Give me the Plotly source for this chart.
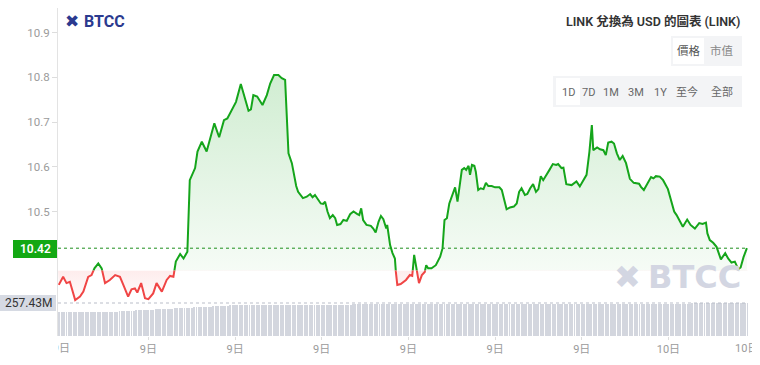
import plotly.graph_objects as go

# ---------------- data ----------------
minutes = [
    -6, 3, 10, 17, 28, 38, 45, 55, 62, 68,
    76, 83, 90, 100, 111, 121, 128, 138, 145, 152,
    157, 165, 173, 180, 190, 197, 208, 218, 225, 232,
    237, 246, 253, 261, 266, 272, 277, 282, 291, 301,
    308, 317, 327, 337, 344, 353, 362, 372, 381, 388,
    393, 398, 406, 417, 426, 433, 441, 450, 457, 464,
    471, 478, 487, 491, 501, 509, 516, 521, 526, 533,
    538, 543, 547, 552, 557, 563, 568, 572, 579, 585,
    592, 599, 606, 614, 618, 622, 626, 633, 642, 647,
    652, 658, 663, 668, 674, 676, 682, 687, 692, 694,
    697, 704, 715, 723, 728, 732, 737, 742, 748, 754,
    757, 761, 768, 777, 786, 791, 795, 800, 805, 812,
    817, 822, 826, 831, 836, 840, 845, 848, 852, 857,
    860, 865, 870, 876, 881, 886, 893, 900, 909, 914,
    919, 924, 931, 939, 945, 950, 955, 962, 967, 973,
    979, 985, 990, 995, 1000, 1006, 1013, 1020, 1027, 1031,
    1038, 1042, 1048, 1059, 1069, 1076, 1083, 1090, 1096, 1101,
    1104, 1112, 1118, 1125, 1130, 1135, 1142, 1147, 1153, 1159,
    1165, 1172, 1180, 1188, 1199, 1203, 1209, 1217, 1224, 1229,
    1234, 1242, 1249, 1259, 1267, 1272, 1277, 1282, 1290, 1299,
    1306, 1315, 1324, 1331, 1338, 1341, 1346, 1353, 1360, 1369,
    1378, 1384, 1391, 1398, 1405, 1410, 1416, 1423,
]
price = [
    10.336, 10.354, 10.340, 10.343, 10.302, 10.310, 10.321, 10.354, 10.358, 10.373,
    10.384, 10.373, 10.340, 10.347, 10.358, 10.354, 10.336, 10.310, 10.326, 10.328,
    10.319, 10.340, 10.306, 10.304, 10.317, 10.340, 10.321, 10.347, 10.356, 10.354,
    10.388, 10.405, 10.395, 10.410, 10.570, 10.585, 10.597, 10.634, 10.656, 10.634,
    10.664, 10.697, 10.666, 10.704, 10.708, 10.727, 10.745, 10.785, 10.749, 10.725,
    10.728, 10.760, 10.757, 10.738, 10.760, 10.786, 10.805, 10.805, 10.798, 10.794,
    10.630, 10.608, 10.557, 10.544, 10.530, 10.533, 10.539, 10.532, 10.537, 10.526,
    10.518, 10.517, 10.522, 10.500, 10.485, 10.492, 10.485, 10.470, 10.472, 10.481,
    10.479, 10.494, 10.500, 10.494, 10.492, 10.507, 10.481, 10.470, 10.468, 10.462,
    10.453, 10.477, 10.490, 10.483, 10.462, 10.470, 10.425, 10.407, 10.395, 10.365,
    10.336, 10.338, 10.347, 10.358, 10.356, 10.403, 10.373, 10.340, 10.358, 10.365,
    10.380, 10.373, 10.373, 10.380, 10.399, 10.418, 10.481, 10.485, 10.518, 10.537,
    10.554, 10.522, 10.559, 10.593, 10.597, 10.593, 10.602, 10.582, 10.604, 10.602,
    10.589, 10.548, 10.552, 10.550, 10.564, 10.557, 10.557, 10.554, 10.554, 10.548,
    10.526, 10.505, 10.509, 10.511, 10.518, 10.544, 10.552, 10.537, 10.539, 10.552,
    10.561, 10.544, 10.550, 10.579, 10.570, 10.582, 10.593, 10.606, 10.604, 10.606,
    10.597, 10.598, 10.561, 10.559, 10.567, 10.556, 10.569, 10.582, 10.634, 10.693,
    10.637, 10.643, 10.639, 10.637, 10.626, 10.654, 10.656, 10.652, 10.630, 10.615,
    10.624, 10.608, 10.573, 10.564, 10.562, 10.555, 10.548, 10.562, 10.577, 10.574,
    10.579, 10.578, 10.570, 10.550, 10.518, 10.500, 10.492, 10.483, 10.466, 10.482,
    10.470, 10.462, 10.474, 10.472, 10.475, 10.451, 10.436, 10.430, 10.421, 10.393,
    10.407, 10.395, 10.386, 10.388, 10.371, 10.375, 10.398, 10.418,
]
# volume (millions), one bar per 5 minutes starting at minute -5
volume_m = [
    188, 187, 188, 186, 187, 188, 187, 186, 188, 187, 188, 187,
    186, 187, 188, 187, 188, 189, 188, 187, 188, 189, 190, 189,
    191, 192, 193, 194, 195, 196, 197, 198, 199, 200, 201, 202,
    203, 204, 205, 206, 207, 208, 209, 210, 211, 212, 213, 214,
    215, 216, 217, 218, 219, 220, 221, 222, 223, 224, 225, 226,
    227, 228, 229, 230, 231, 232, 233, 234, 235, 236, 237, 238,
    238, 239, 239, 240, 240, 240, 241, 241, 241, 242, 242, 242,
    242, 243, 243, 243, 243, 243, 244, 244, 244, 244, 244, 244,
    244, 245, 245, 245, 245, 245, 245, 245, 245, 245, 245, 245,
    245, 245, 245, 245, 245, 245, 245, 245, 245, 245, 245, 245,
    245, 245, 246, 246, 246, 246, 246, 246, 246, 246, 246, 246,
    246, 246, 246, 246, 246, 246, 246, 246, 246, 246, 246, 246,
    246, 246, 246, 246, 246, 246, 246, 246, 246, 246, 246, 246,
    247, 247, 247, 247, 247, 247, 247, 247, 247, 247, 247, 247,
    247, 247, 247, 247, 247, 247, 247, 247, 247, 247, 247, 247,
    248, 248, 248, 248, 248, 248, 248, 248, 248, 248, 248, 248,
    248, 248, 248, 248, 248, 248, 248, 248, 248, 248, 248, 248,
    249, 249, 249, 249, 249, 249, 249, 249, 249, 249, 249, 249,
    249, 249, 249, 249, 249, 249, 249, 249, 249, 249, 249, 249,
    250, 250, 250, 250, 250, 250, 250, 250, 250, 250, 250, 250,
    251, 251, 251, 251, 251, 251, 251, 251, 251, 251, 251, 251,
    252, 252, 252, 252, 252, 253, 253, 253, 253, 253, 253, 254,
    254, 254, 254, 255, 255, 255, 255, 256, 256, 256, 256, 257,
    257, 257, 257, 257, 257, 257, 257, 257, 257, 257, 257.43,
]
vol_minutes = [-5 + 5 * i for i in range(len(volume_m))]

x_tick_minutes = [0, 180, 360, 540, 720, 900, 1080, 1260, 1440]
x_tick_labels = ["9日", "9日", "9日", "9日", "9日", "9日", "9日", "10日", "10日"]
y_tick_values = [10.5, 10.6, 10.7, 10.8, 10.9]
baseline_price = 10.368
title_text = "LINK 兌換為 USD 的圖表 (LINK)"
metric_buttons = ["價格", "市值"]
range_buttons = ["1D", "7D", "1M", "3M", "1Y", "至今", "全部"]

# ---------------- layout geometry (pixels) ----------------
W, H = 760, 365
L, R, T, B = 58, 748, 8, 336
PX_PER_MIN = 1 / 2.0768
X0 = -7.68
X1 = X0 + (R - L) / PX_PER_MIN
PX_PER_UNIT = 447.5
P_AT_211 = 10.5
PMIN = P_AT_211 - (B - 211.5) / PX_PER_UNIT
PMAX = P_AT_211 + (211.5 - T) / PX_PER_UNIT
VOL_TOP_PX = 303
VMAX = volume_m[-1] * (B - T) / (B - VOL_TOP_PX)
d_base = (baseline_price - PMIN) / (PMAX - PMIN)


def xp(px):
    return (px - L) / (R - L)


def yp(py):
    return (B - py) / (B - T)


FONT = "Roboto, 'Noto Sans CJK TC', sans-serif"
GREEN = "#15a51b"
RED = "#f04545"

fig = go.Figure()

# volume
fig.add_trace(go.Bar(
    x=vol_minutes, y=volume_m, xaxis="x", yaxis="y2",
    width=2.0, marker=dict(color="#d3d6de", line=dict(width=0)),
    hoverinfo="skip", showlegend=False,
))

# last price dashed line (on main axis)
fig.add_trace(go.Scatter(
    x=[X0, X1], y=[price[-1], price[-1]], xaxis="x", yaxis="y",
    mode="lines", line=dict(color="#1d8f1d", width=1, dash="3px,3px"),
    hoverinfo="skip", showlegend=False,
))

# green part (above baseline)
fig.add_trace(go.Scatter(
    x=minutes, y=price, xaxis="x", yaxis="y3",
    mode="lines", line=dict(color=GREEN, width=2),
    fill="tozeroy",
    fillgradient=dict(type="vertical", start=baseline_price, stop=max(price),
                      colorscale=[[0, "rgba(23,165,29,0.04)"], [1, "rgba(23,165,29,0.20)"]]),
    hoverinfo="skip", showlegend=False,
))

# red part (below baseline)
fig.add_trace(go.Scatter(
    x=[X0, X1], y=[baseline_price, baseline_price], xaxis="x", yaxis="y4",
    mode="lines", line=dict(width=0, color="rgba(0,0,0,0)"),
    hoverinfo="skip", showlegend=False,
))
fig.add_trace(go.Scatter(
    x=minutes, y=price, xaxis="x", yaxis="y4",
    mode="lines", line=dict(color=RED, width=2),
    fill="tonexty",
    fillgradient=dict(type="vertical", start=min(price), stop=baseline_price,
                      colorscale=[[0, "rgba(240,69,69,0.02)"], [1, "rgba(240,69,69,0.10)"]]),
    hoverinfo="skip", showlegend=False,
))

shapes = []
annotations = []


def note(px, py, text, size, color, family=FONT, xanchor="center", **kw):
    annotations.append(dict(xref="paper", yref="paper", x=xp(px), y=yp(py),
                            xanchor=xanchor, yanchor="middle", text=text,
                            showarrow=False,
                            font=dict(family=family, size=size, color=color, **kw.pop("fkw", {})),
                            **kw))


# last price label
shapes.append(dict(type="rect", xref="paper", yref="paper",
                   x0=xp(13), x1=xp(57), y0=yp(258), y1=yp(240),
                   fillcolor="#13a813", line=dict(width=0), layer="above"))
note(35, 249, f"{price[-1]:.2f}", 12, "white", fkw=dict(weight=600))
# volume label + dashed line
shapes.append(dict(type="line", xref="paper", yref="y2", x0=0, x1=1,
                   y0=volume_m[-1], y1=volume_m[-1],
                   line=dict(color="#b9bdc8", width=1, dash="3px,3px")))
shapes.append(dict(type="rect", xref="paper", yref="paper",
                   x0=xp(0), x1=xp(56), y0=yp(311), y1=yp(295),
                   fillcolor="#d6dae3", line=dict(width=0), layer="above"))
note(28, 303, f"{volume_m[-1]:.2f}M", 12, "#333333")

# x edge labels (clipped)
note(56, 348, x_tick_labels[0], 11, "#9b9b9b", xanchor="left", width=12, align="right")
note(733, 348, x_tick_labels[-1], 11, "#9b9b9b", xanchor="left", width=17, align="left")

# top-left logo
note(72, 21, "✖", 17, "#2b3a8f", family="DejaVu Sans")
note(82, 21, "<b>BTCC</b>", 16, "#2b3a8f", xanchor="left")
# bottom-right watermark
note(627, 277, "✖", 32, "#d3d6e2", family="DejaVu Sans")
note(646, 277, "<b>BTCC</b>", 32, "#d3d6e2", family="DejaVu Sans", xanchor="left")

# title
note(742, 21, title_text, 12.5, "#333333", xanchor="right", fkw=dict(weight=600))

# metric buttons
shapes.append(dict(type="rect", xref="paper", yref="paper",
                   x0=xp(671), x1=xp(742), y0=yp(66), y1=yp(36),
                   fillcolor="#f3f4f6", line=dict(width=0), layer="above"))
shapes.append(dict(type="rect", xref="paper", yref="paper",
                   x0=xp(673), x1=xp(704), y0=yp(64), y1=yp(38),
                   fillcolor="#ffffff", line=dict(width=0), layer="above"))
for label, cx, col in zip(metric_buttons, [689, 722], ["#555555", "#888888"]):
    note(cx, 51, label, 11.5, col)

# range buttons
shapes.append(dict(type="rect", xref="paper", yref="paper",
                   x0=xp(553), x1=xp(742), y0=yp(107), y1=yp(76),
                   fillcolor="#f3f4f6", line=dict(width=0), layer="above"))
shapes.append(dict(type="rect", xref="paper", yref="paper",
                   x0=xp(556), x1=xp(580), y0=yp(105), y1=yp(78),
                   fillcolor="#ffffff", line=dict(width=0), layer="above"))
for label, cx in zip(range_buttons, [568, 588, 611, 636, 660, 686.5, 721.5]):
    note(cx, 92, label, 11, "#666666")

fig.update_layout(
    width=W, height=H,
    margin=dict(l=L, r=W - R, t=T, b=H - B, pad=0),
    paper_bgcolor="white", plot_bgcolor="rgba(0,0,0,0)",
    showlegend=False, bargap=0,
    font=dict(family=FONT),
    xaxis=dict(range=[X0, X1], tickvals=x_tick_minutes[1:-1], ticktext=x_tick_labels[1:-1],
               showgrid=False, zeroline=False, showline=False,
               ticks="outside", ticklen=3, tickcolor="#dddddd",
               tickfont=dict(family=FONT, size=11, color="#9b9b9b"),
               anchor="y", fixedrange=True),
    yaxis=dict(range=[PMIN, PMAX], domain=[0, 1], tickvals=y_tick_values,
               ticktext=[f"{v:.1f}" for v in y_tick_values],
               showgrid=False, zeroline=False, showline=True, linecolor="#e3e3e3",
               ticks="outside", ticklen=5, tickcolor="#dddddd",
               tickfont=dict(family=FONT, size=11.5, color="#9b9b9b"),
               anchor="x", fixedrange=True),
    yaxis2=dict(range=[0, VMAX], domain=[0, 1], visible=False, anchor="x", fixedrange=True),
    yaxis3=dict(range=[baseline_price, PMAX], domain=[d_base, 1], visible=False,
                anchor="x", fixedrange=True),
    yaxis4=dict(range=[PMIN, baseline_price], domain=[0, d_base], visible=False,
                anchor="x", fixedrange=True),
    shapes=shapes, annotations=annotations,
)

fig.write_html("out.html", config={"displayModeBar": False})
